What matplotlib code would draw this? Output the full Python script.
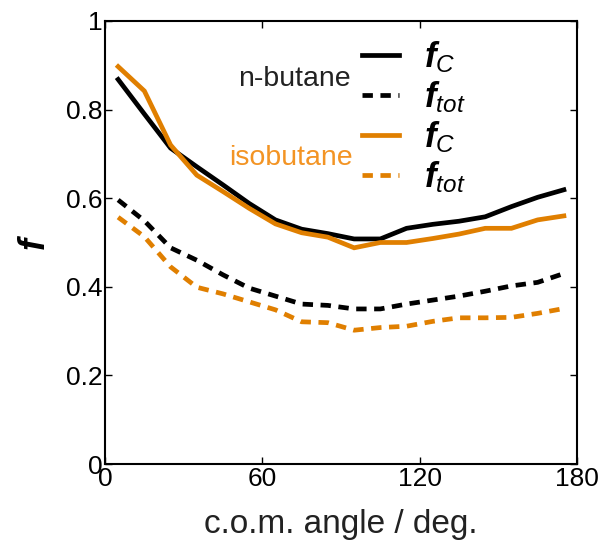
import matplotlib
matplotlib.use('Agg')
import matplotlib.pyplot as plt
from matplotlib.ticker import FuncFormatter

plt.rcParams['font.family'] = 'Liberation Sans'
plt.rcParams['mathtext.fontset'] = 'custom'
plt.rcParams['mathtext.rm'] = 'Liberation Sans'
plt.rcParams['mathtext.it'] = 'Liberation Sans:italic'
plt.rcParams['mathtext.bf'] = 'Liberation Sans:italic:bold'

# centros de los bins de angulo
angle = [5, 15, 25, 35, 45, 55, 65, 75, 85, 95, 105, 115, 125, 135, 145, 155, 165, 175]

# n-butano
fc_nbutane = [0.868, 0.79, 0.713, 0.671, 0.63, 0.588, 0.551, 0.53, 0.52, 0.508, 0.508,
              0.532, 0.541, 0.548, 0.558, 0.581, 0.602, 0.619]
ftot_nbutane = [0.596, 0.549, 0.488, 0.46, 0.427, 0.397, 0.379, 0.361, 0.358, 0.35, 0.35,
                0.361, 0.37, 0.379, 0.39, 0.402, 0.41, 0.43]

# isobutano
fc_isobutane = [0.897, 0.842, 0.72, 0.652, 0.615, 0.577, 0.542, 0.522, 0.512, 0.488, 0.5,
                0.5, 0.509, 0.519, 0.532, 0.532, 0.551, 0.56]
ftot_isobutane = [0.557, 0.513, 0.445, 0.399, 0.384, 0.366, 0.348, 0.321, 0.319, 0.302, 0.308,
                  0.311, 0.322, 0.33, 0.33, 0.331, 0.34, 0.351]

black = 'black'
orange = '#E07F00'
lw = 3.4
dash = (0, (2.2, 1.6))

fig = plt.figure(figsize=(6.05, 5.42), dpi=100)
ax = fig.add_axes([0.1736, 0.1439, 0.7801, 0.8174])

l1, = ax.plot(angle, fc_nbutane, color=black, lw=lw, solid_joinstyle='miter')
l2, = ax.plot(angle, ftot_nbutane, color=black, lw=lw, linestyle=dash, dash_capstyle='butt')
l3, = ax.plot(angle, fc_isobutane, color=orange, lw=lw, solid_joinstyle='miter')
l4, = ax.plot(angle, ftot_isobutane, color=orange, lw=lw, linestyle=dash, dash_capstyle='butt')

ax.set_xlim(0, 180)
ax.set_ylim(0, 1)
ax.set_xticks([0, 60, 120, 180])
ax.set_yticks([0, 0.2, 0.4, 0.6, 0.8, 1.0])
ax.yaxis.set_major_formatter(FuncFormatter(lambda v, p: '%g' % v))
ax.tick_params(direction='in', top=True, right=True, length=5, width=1,
               labelsize=19, pad=2, colors='black')
for s in ax.spines.values():
    s.set_linewidth(1.5)

ax.set_xlabel('c.o.m. angle / deg.', fontsize=24, color='#222222', labelpad=13)
ax.set_ylabel(r'$\mathbf{f}$', fontsize=26, labelpad=9)

leg = ax.legend([l1, l2, l3, l4],
                [r'$\mathbf{f}_{C}$', r'$\mathbf{f}_{tot}$', r'$\mathbf{f}_{C}$', r'$\mathbf{f}_{tot}$'],
                loc='upper left', bbox_to_anchor=(0.478, 1.03), frameon=False,
                fontsize=25, handlelength=1.08, handletextpad=0.7, labelspacing=0.13)

ax.text(0.521, 0.87, 'n-butane', transform=ax.transAxes, ha='right', va='center',
        fontsize=20.5, color='#222222')
ax.text(0.525, 0.69, 'isobutane', transform=ax.transAxes, ha='right', va='center',
        fontsize=20.5, color='#F39424')

fig.savefig('out.png', dpi=100)
